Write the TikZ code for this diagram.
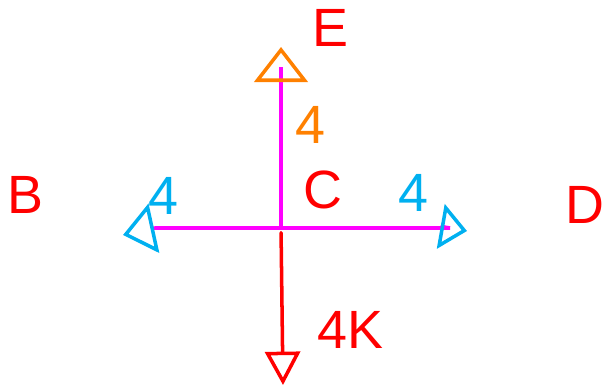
\documentclass[tikz,border=0pt]{standalone}
\usepackage{fontspec}
\setmainfont{Liberation Sans}
\definecolor{skmagenta}{RGB}{255,0,255}
\definecolor{skred}{RGB}{255,0,0}
\definecolor{skorange}{RGB}{255,128,0}
\definecolor{skcyan}{RGB}{0,176,240}
\usetikzlibrary{arrows.meta}

\begin{document}
\begin{tikzpicture}[x=0.03cm,y=-0.03cm,
    lbl/.style={font=\fontsize{46}{46}\selectfont},
    arm/.style={line width=3pt,line cap=round}]
  \useasboundingbox (0,0) rectangle (612,391);
  \coordinate (origin) at (281,228);
  \coordinate (up) at (281,47);
  \coordinate (left) at (123,235);
  \coordinate (right) at (467,231);
  \coordinate (down) at (283,385);
  % axes
  \draw[arm,skmagenta,-{Triangle[open,color=skorange,length=1.05cm,width=1.6cm,line width=3pt]}] (origin) -- (281,67) -- (up);
  \draw[arm,skmagenta,-{Triangle[open,color=skcyan,length=0.95cm,width=1.5cm,line width=3pt]}] (origin) -- (155,228) -- (left);
  \draw[arm,skmagenta,-{Triangle[open,color=skcyan,length=0.8cm,width=1.35cm,line width=3pt]}] (origin) -- (450,228) -- (right);
  \draw[arm,skred,shorten <=4pt,-{Triangle[open,length=1.0cm,width=1.05cm,line width=3pt]}] (origin) -- (down);
  % labels
  \node[lbl,skred] (e) at (330,28) {E};
  \node[lbl,skorange] (eLen) at (310,125) {4};
  \node[lbl,skred] (b) at (25,195) {B};
  \node[lbl,skcyan] (bLen) at (163,196) {4};
  \node[lbl,skred] (c) at (323,190) {C};
  \node[lbl,skcyan] (dLen) at (413,193) {4};
  \node[lbl,skred] (d) at (585,205) {D};
  \node[lbl,skred] (downLen) at (350,330) {4K};
\end{tikzpicture}
\end{document}
